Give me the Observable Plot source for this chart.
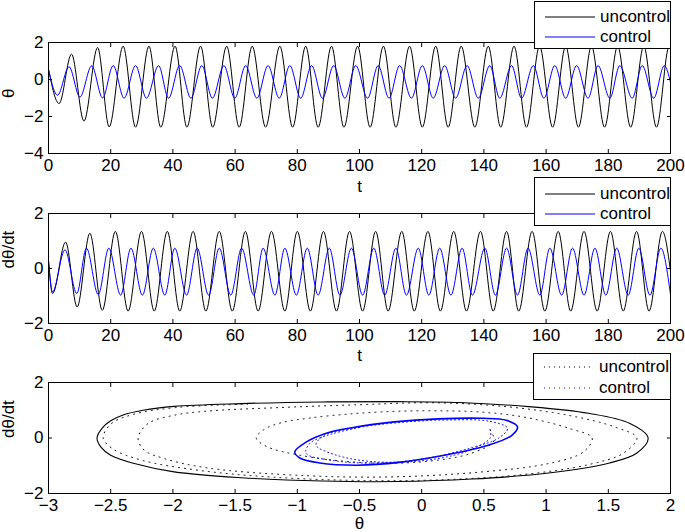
<!DOCTYPE html>
<html><head><meta charset="utf-8">
<script src="https://cdn.jsdelivr.net/npm/d3@7"></script>
<script src="https://cdn.jsdelivr.net/npm/@observablehq/plot@0.6"></script>
<style>
body{margin:0;background:#fff;}
#chart{position:relative;width:685px;height:532px;font-family:"Liberation Sans",Arial,Helvetica,sans-serif;overflow:hidden;background:#fff}
.panel{position:absolute;left:0}
.legend{position:absolute;background:#fff;border:1px solid #000;box-sizing:border-box;font-size:17px;color:#000}
.legend .row{position:absolute;left:0;height:20px;display:flex;align-items:center;white-space:nowrap}
.legend svg{margin-left:10px;margin-right:5px}
</style>
</head><body><div id="chart"></div><script>
// ---------- data ----------
const seriesNames = ["uncontrol", "control"];
const seriesColors = ["#000000", "#0000ff"];

const tTicks = [0, 20, 40, 60, 80, 100, 120, 140, 160, 180, 200];
const thetaTicks = [-4, -2, 0, 2];
const dthetaTicks = [-2, 0, 2];
const phaseXTicks = [-3, -2.5, -2, -1.5, -1, -0.5, 0, 0.5, 1, 1.5, 2];

// theta(t), uncontrolled: [t, theta] at start, extrema, end
const thetaUncontrol = [
[0,0.55],[3.4,-1.30],[7.4,1.37],[11.4,-2.25],[15.8,1.73],[19.5,-2.56],[24.0,1.80],[28.0,-2.58],[32.3,1.80],[36.1,-2.58],[40.7,1.80],[44.5,-2.58],[48.9,1.80],[52.8,-2.58],[57.3,1.80],[61.3,-2.58],[65.5,1.80],[69.8,-2.58],[74.4,1.80],[78.5,-2.58],[82.7,1.80],[86.7,-2.58],[91.0,1.80],[95.0,-2.58],[99.4,1.80],[103.4,-2.58],[107.7,1.80],[111.7,-2.58],[116.1,1.80],[120.2,-2.58],[124.5,1.80],[128.5,-2.58],[132.7,1.80],[137.1,-2.58],[141.4,1.80],[145.4,-2.58],[149.7,1.80],[153.7,-2.58],[157.9,1.80],[162.1,-2.58],[166.3,1.80],[170.4,-2.58],[174.6,1.80],[178.8,-2.58],[183.0,1.80],[187.2,-2.58],[191.4,1.80],[195.5,-2.58],[199.6,1.80],[200,1.79]
];
// theta(t), controlled
const thetaControl = [
[0,0.55],[2.9,-0.85],[6.6,0.69],[10.1,-0.95],[13.9,0.74],[17.4,-1.00],[20.8,0.75],[24.3,-1.01],[28.0,0.75],[31.5,-1.01],[35.4,0.75],[38.6,-1.01],[42.2,0.75],[45.8,-1.01],[49.3,0.75],[52.7,-1.01],[56.4,0.75],[59.9,-1.01],[63.4,0.75],[67.0,-1.01],[70.6,0.75],[74.2,-1.01],[77.6,0.75],[81.1,-1.01],[84.6,0.75],[88.1,-1.01],[91.7,0.75],[95.3,-1.01],[98.8,0.75],[102.6,-1.01],[106.0,0.75],[109.5,-1.01],[112.9,0.75],[116.7,-1.01],[120.2,0.75],[123.7,-1.01],[127.4,0.75],[130.9,-1.01],[134.6,0.75],[138.2,-1.01],[141.9,0.75],[145.1,-1.01],[148.9,0.75],[152.1,-1.01],[155.9,0.75],[159.3,-1.01],[162.8,0.75],[166.3,-1.01],[169.8,0.75],[173.5,-1.01],[176.7,0.75],[180.5,-1.01],[183.7,0.75],[187.7,-1.01],[190.9,0.75],[194.6,-1.01],[198.0,0.75],[200,-0.15]
];
// dtheta/dt(t), uncontrolled
const dthetaUncontrol = [
[0,0.30],[1.3,-0.91],[5.5,0.96],[9.2,-1.40],[13.3,1.28],[17.3,-1.52],[21.5,1.35],[25.6,-1.55],[29.9,1.35],[34.0,-1.55],[38.2,1.35],[42.2,-1.55],[46.5,1.35],[50.6,-1.55],[54.9,1.35],[59.1,-1.55],[63.3,1.35],[67.4,-1.55],[71.7,1.35],[76.0,-1.55],[80.0,1.35],[84.2,-1.55],[88.4,1.35],[92.6,-1.55],[96.8,1.35],[101.0,-1.55],[105.2,1.35],[109.2,-1.55],[113.6,1.35],[117.6,-1.55],[122.0,1.35],[126.0,-1.55],[130.3,1.35],[134.4,-1.55],[138.9,1.35],[143.0,-1.55],[147.3,1.35],[151.2,-1.55],[155.5,1.35],[159.6,-1.55],[163.9,1.35],[167.9,-1.55],[172.2,1.35],[176.4,-1.55],[180.7,1.35],[184.8,-1.55],[189.1,1.35],[193.1,-1.55],[197.4,1.35],[200,-0.10]
];
// dtheta/dt(t), controlled
const dthetaControl = [
[0,0.30],[1.3,-0.85],[5.3,0.68],[9.1,-0.91],[12.2,0.74],[16.0,-0.95],[19.4,0.74],[23.2,-0.97],[26.5,0.74],[30.2,-0.97],[33.7,0.74],[37.4,-0.97],[40.6,0.74],[44.4,-0.97],[47.8,0.74],[51.5,-0.97],[54.9,0.74],[58.6,-0.97],[62.1,0.74],[66.0,-0.97],[69.0,0.74],[72.8,-0.97],[76.0,0.74],[79.7,-0.97],[83.2,0.74],[86.7,-0.97],[90.3,0.74],[93.7,-0.97],[97.4,0.74],[101.0,-0.97],[104.6,0.74],[108.1,-0.97],[111.7,0.74],[115.1,-0.97],[118.9,0.74],[122.3,-0.97],[125.8,0.74],[129.4,-0.97],[133.0,0.74],[136.3,-0.97],[140.3,0.74],[143.7,-0.97],[147.3,0.74],[150.8,-0.97],[154.2,0.74],[158.0,-0.97],[161.2,0.74],[165.0,-0.97],[168.5,0.74],[172.2,-0.97],[175.7,0.74],[179.2,-0.97],[182.7,0.74],[186.4,-0.97],[189.8,0.74],[193.4,-0.97],[196.9,0.74],[200,-0.95]
];
// phase portrait [theta, dtheta/dt]
const phaseUncontrolCycle = [
[-2.61,0],[-2.57,0.35],[-2.50,0.62],[-2.40,0.83],[-2.24,1.00],[-1.99,1.14],[-1.45,1.24],[-0.80,1.30],[-0.20,1.31],[0.30,1.28],[0.86,1.13],[1.34,0.89],[1.67,0.53],[1.82,0],[1.73,-0.54],[1.51,-0.90],[1.02,-1.26],[0.40,-1.48],[-0.20,-1.57],[-0.80,-1.55],[-1.45,-1.43],[-1.99,-1.22],[-2.31,-0.92],[-2.50,-0.62],[-2.58,-0.32]
];
const phaseUncontrolTransient = [
[0.55,0.30],[0.58,-0.10],[0.40,-0.55],[0.00,-0.86],[-0.50,-0.88],[-0.98,-0.62],[-1.25,-0.30],[-1.33,0],[-1.27,0.30],[-1.13,0.55],[-0.90,0.72],[-0.57,0.87],[-0.22,0.96],[0.13,0.98],[0.49,0.93],[0.84,0.74],[1.19,0.34],[1.37,0],[1.30,-0.50],[1.02,-0.92],[0.49,-1.22],[-0.22,-1.40],[-0.92,-1.36],[-1.72,-1.08],[-2.07,-0.74],[-2.23,-0.44],[-2.28,0],[-2.20,0.52],[-1.99,0.82],[-1.72,0.97],[-1.18,1.09],[-0.50,1.20],[0.10,1.27],[0.70,1.12],[1.20,0.80],[1.55,0.40],[1.73,0],[1.62,-0.55],[1.35,-0.95],[0.85,-1.30],[0.20,-1.50],[-0.50,-1.53],[-1.20,-1.41],[-1.80,-1.16],[-2.25,-0.80],[-2.48,-0.40],[-2.56,0],[-2.50,0.50],[-2.32,0.85],[-1.97,1.10],[-1.40,1.22]
];
const phaseControlCycle = [
[-1.02,-0.50],[-0.93,-0.15],[-0.76,0.18],[-0.55,0.38],[-0.22,0.58],[0.13,0.69],[0.49,0.71],[0.68,0.64],[0.77,0.40],[0.72,0.08],[0.52,-0.28],[0.15,-0.65],[-0.18,-0.88],[-0.52,-0.98],[-0.82,-0.90],[-0.98,-0.72]
];
const phaseControlTransient = [
[0.55,0.30],[0.55,0.00],[0.35,-0.50],[0.00,-0.82],[-0.40,-0.85],[-0.70,-0.60],[-0.85,-0.25],[-0.78,0.10],[-0.55,0.35],[-0.20,0.55],[0.20,0.65],[0.55,0.60],[0.69,0.35],[0.62,0.00],[0.40,-0.35],[0.05,-0.72],[-0.35,-0.90],[-0.70,-0.82],[-0.93,-0.55],[-0.90,-0.20],[-0.72,0.15],[-0.50,0.38]
];

// ---------- drawing ----------
const FONT = '"Liberation Sans", Arial, Helvetica, sans-serif';
const FS = 17;
const chart = document.getElementById("chart");
const fmt = d3.format("~g");

function makePanel({top, height, marginTop, marginBottom, xDomain, xTicks, yDomain, yTicks, xLabel, yLabel, xLabelDy, marks}) {
  const svg = Plot.plot({
    width: 685, height, marginLeft: 48, marginRight: 15, marginTop, marginBottom,
    style: {fontFamily: FONT, fontSize: FS + "px", color: "#000", background: "transparent", overflow: "visible"},
    x: {domain: xDomain},
    y: {domain: yDomain},
    marks: [
      ...marks,
      Plot.frame({stroke: "#000", strokeWidth: 1}),
      Plot.axisX(xTicks, {anchor: "bottom", tickSize: 0, tickPadding: 5, tickFormat: fmt, label: null, fontSize: FS}),
      Plot.axisX(xTicks, {anchor: "bottom", tickSize: 4, dy: -4, tickFormat: () => "", label: null}),
      Plot.axisX(xTicks, {anchor: "top", tickSize: 4, dy: 4, tickFormat: () => "", label: null}),
      Plot.axisY(yTicks, {anchor: "left", tickSize: 0, tickPadding: 5, tickFormat: fmt, label: null, fontSize: FS}),
      Plot.axisY(yTicks, {anchor: "left", tickSize: 4, dx: 4, tickFormat: () => "", label: null}),
      Plot.axisY(yTicks, {anchor: "right", tickSize: 4, dx: -4, tickFormat: () => "", label: null}),
      Plot.text([xLabel], {text: d => d, frameAnchor: "bottom", dy: xLabelDy, lineAnchor: "middle", fontSize: FS}),
      Plot.text([yLabel], {text: d => d, frameAnchor: "left", dx: -40, rotate: -90, lineAnchor: "middle", fontSize: FS})
    ]
  });
  svg.classList.add("panel");
  svg.style.top = top + "px";
  chart.appendChild(svg);
}

function makeLegend({top, left, width, height, rows, dotted}) {
  const div = document.createElement("div");
  div.className = "legend";
  Object.assign(div.style, {top: top + "px", left: left + "px", width: width + "px", height: height + "px"});
  seriesNames.forEach((name, i) => {
    const row = document.createElement("div");
    row.className = "row";
    row.style.top = (rows[i] - 10) + "px";
    const dash = dotted ? ' stroke-dasharray="1 4"' : "";
    row.innerHTML = `<svg width="50" height="4" style="overflow:visible"><line x1="0" x2="50" y1="2" y2="2" stroke="${seriesColors[i]}" stroke-width="1"${dash}/></svg><span>${name}</span>`;
    div.appendChild(row);
  });
  chart.appendChild(div);
}

const xy = {x: d => d[0], y: d => d[1]};

makePanel({
  top: 0, height: 193, marginTop: 42, marginBottom: 40,
  xDomain: [0, 200], xTicks: tTicks, yDomain: [-4, 2], yTicks: thetaTicks,
  xLabel: "t", yLabel: "θ", xLabelDy: 33,
  marks: [
    Plot.line(thetaUncontrol, {...xy, stroke: seriesColors[0], strokeWidth: 1, curve: "monotone-x"}),
    Plot.line(thetaControl, {...xy, stroke: seriesColors[1], strokeWidth: 1, curve: "monotone-x"})
  ]
});
makePanel({
  top: 193, height: 170, marginTop: 20, marginBottom: 40,
  xDomain: [0, 200], xTicks: tTicks, yDomain: [-2, 2], yTicks: dthetaTicks,
  xLabel: "t", yLabel: "dθ/dt", xLabelDy: 32,
  marks: [
    Plot.line(dthetaUncontrol, {...xy, stroke: seriesColors[0], strokeWidth: 1, curve: "monotone-x"}),
    Plot.line(dthetaControl, {...xy, stroke: seriesColors[1], strokeWidth: 1, curve: "monotone-x"})
  ]
});
makePanel({
  top: 363, height: 169, marginTop: 19, marginBottom: 39,
  xDomain: [-3, 2], xTicks: phaseXTicks, yDomain: [-2, 2], yTicks: dthetaTicks,
  xLabel: "θ", yLabel: "dθ/dt", xLabelDy: 30,
  marks: [
    Plot.line(phaseUncontrolTransient, {...xy, stroke: seriesColors[0], strokeWidth: 1, strokeDasharray: "1 5", curve: "catmull-rom"}),
    Plot.line(phaseUncontrolCycle, {...xy, stroke: seriesColors[0], strokeWidth: 1.1, curve: "catmull-rom-closed"}),
    Plot.line(phaseControlTransient, {...xy, stroke: seriesColors[1], strokeWidth: 1, strokeDasharray: "1 3", curve: "catmull-rom"}),
    Plot.line(phaseControlCycle, {...xy, stroke: seriesColors[1], strokeWidth: 1.6, curve: "catmull-rom-closed"})
  ]
});

makeLegend({top: 1, left: 534, width: 137, height: 48, rows: [15, 35], dotted: false});
makeLegend({top: 177, left: 534, width: 137, height: 49, rows: [16, 36], dotted: false});
makeLegend({top: 353, left: 533, width: 138, height: 47, rows: [13, 34], dotted: true});
</script></body></html>
